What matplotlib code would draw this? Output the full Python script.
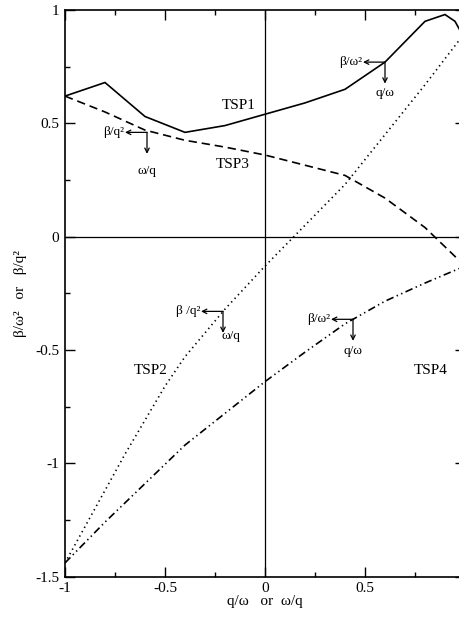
import numpy as np
import matplotlib
matplotlib.use('Agg')
import matplotlib.pyplot as plt
from matplotlib.ticker import MultipleLocator, FuncFormatter

plt.rcParams['font.family'] = ['Liberation Serif', 'DejaVu Serif']
plt.rcParams['axes.unicode_minus'] = False
plt.rcParams['lines.scale_dashes'] = False

# values
x_grid = [-1.0, -0.8, -0.6, -0.4, -0.2, 0.0, 0.2, 0.4, 0.6, 0.8, 1.0]

tsp1_x = [-1.0, -0.8, -0.6, -0.4, -0.2, 0.2, 0.4, 0.6, 0.8, 0.9, 0.95, 1.0]
tsp1_y = [0.62, 0.68, 0.53, 0.46, 0.49, 0.59, 0.65, 0.77, 0.95, 0.98, 0.95, 0.87]

tsp3_y = [0.62, 0.55, 0.47, 0.425, 0.395, 0.36, 0.315, 0.27, 0.17, 0.04, -0.13]

tsp2_x = [-1.0, -0.9, -0.8, -0.7, -0.6, -0.5, -0.4, -0.2, 0.0, 0.2, 0.4, 0.6, 0.8, 1.0]
tsp2_y = [-1.44, -1.28, -1.12, -0.96, -0.81, -0.66, -0.53, -0.32, -0.13, 0.05, 0.23, 0.45, 0.67, 0.90]

tsp4_y = [-1.44, -1.26, -1.09, -0.92, -0.78, -0.64, -0.51, -0.385, -0.285, -0.205, -0.13]

curve_labels = ['TSP1', 'TSP3', 'TSP2', 'TSP4']
label_pos = [(-0.13, 0.58), (-0.16, 0.32), (-0.57, -0.59), (0.83, -0.59)]

# arrow markers: vertex, left label, down label
marks = [
    ((0.60, 0.77), 'β/ω²', 'q/ω', (0.60, 0.635)),
    ((-0.59, 0.46), 'β/q²', 'ω/q', (-0.59, 0.29)),
    ((-0.21, -0.33), 'β /q²', 'ω/q', (-0.17, -0.44)),
    ((0.44, -0.365), 'β/ω²', 'q/ω', (0.44, -0.505)),
]

fig = plt.figure(figsize=(4.6, 6.17), dpi=100)
ax = fig.add_axes([65 / 460, 40.5 / 617, 400 / 460, 566.5 / 617])

lw = 1.2
ax.axhline(0, color='black', lw=0.9)
ax.axvline(0, color='black', lw=0.9)

ax.plot(tsp1_x, tsp1_y, color='black', lw=lw, solid_joinstyle='miter')
ax.plot(x_grid, tsp3_y, color='black', lw=lw, linestyle=(0, (6, 3.5)))
ax.plot(tsp2_x, tsp2_y, color='black', lw=lw, linestyle=(0, (1, 2.6)))
ax.plot(x_grid, tsp4_y, color='black', lw=lw, linestyle=(0, (5.5, 2.5, 1, 2.5, 1, 2.5)))

for name, (tx, ty) in zip(curve_labels, label_pos):
    ax.text(tx, ty, name, fontsize=11, ha='center', va='center')

for (vx, vy), left, down, (dx, dy) in marks:
    ax.annotate('', xy=(vx - 0.11, vy), xytext=(vx, vy),
                arrowprops=dict(arrowstyle='->', lw=0.9, shrinkA=0, shrinkB=0,
                                mutation_scale=8))
    ax.annotate('', xy=(vx, vy - 0.095), xytext=(vx, vy),
                arrowprops=dict(arrowstyle='->', lw=0.9, shrinkA=0, shrinkB=0,
                                mutation_scale=8))
    ax.text(vx - 0.115, vy, left, fontsize=9.5, ha='right', va='center')
    ax.text(dx, dy, down, fontsize=9.5, ha='center', va='center')

ax.set_xlim(-1, 1)
ax.set_ylim(-1.5, 1)
ax.set_xticks([-1, -0.5, 0, 0.5, 1])
ax.set_xticklabels(['-1', '-0.5', '0', '0.5', ''])
ax.set_yticks([-1.5, -1, -0.5, 0, 0.5, 1])
ax.xaxis.set_minor_locator(MultipleLocator(0.25))
ax.yaxis.set_minor_locator(MultipleLocator(0.25))
ax.yaxis.set_major_formatter(FuncFormatter(lambda v, p: '%g' % v))
ax.tick_params(which='both', direction='in', top=True, right=True, labelsize=11, width=1)
ax.tick_params(which='major', length=7)
ax.tick_params(which='minor', length=3.5)
ax.tick_params(axis='x', pad=4)
ax.tick_params(axis='y', pad=4)
for s in ax.spines.values():
    s.set_linewidth(1.2)

ax.set_xlabel('q/ω   or  ω/q', fontsize=11, labelpad=0)
ax.set_ylabel('β/ω²   or   β/q²', fontsize=11, labelpad=6)

fig.savefig('out.png', dpi=100)
